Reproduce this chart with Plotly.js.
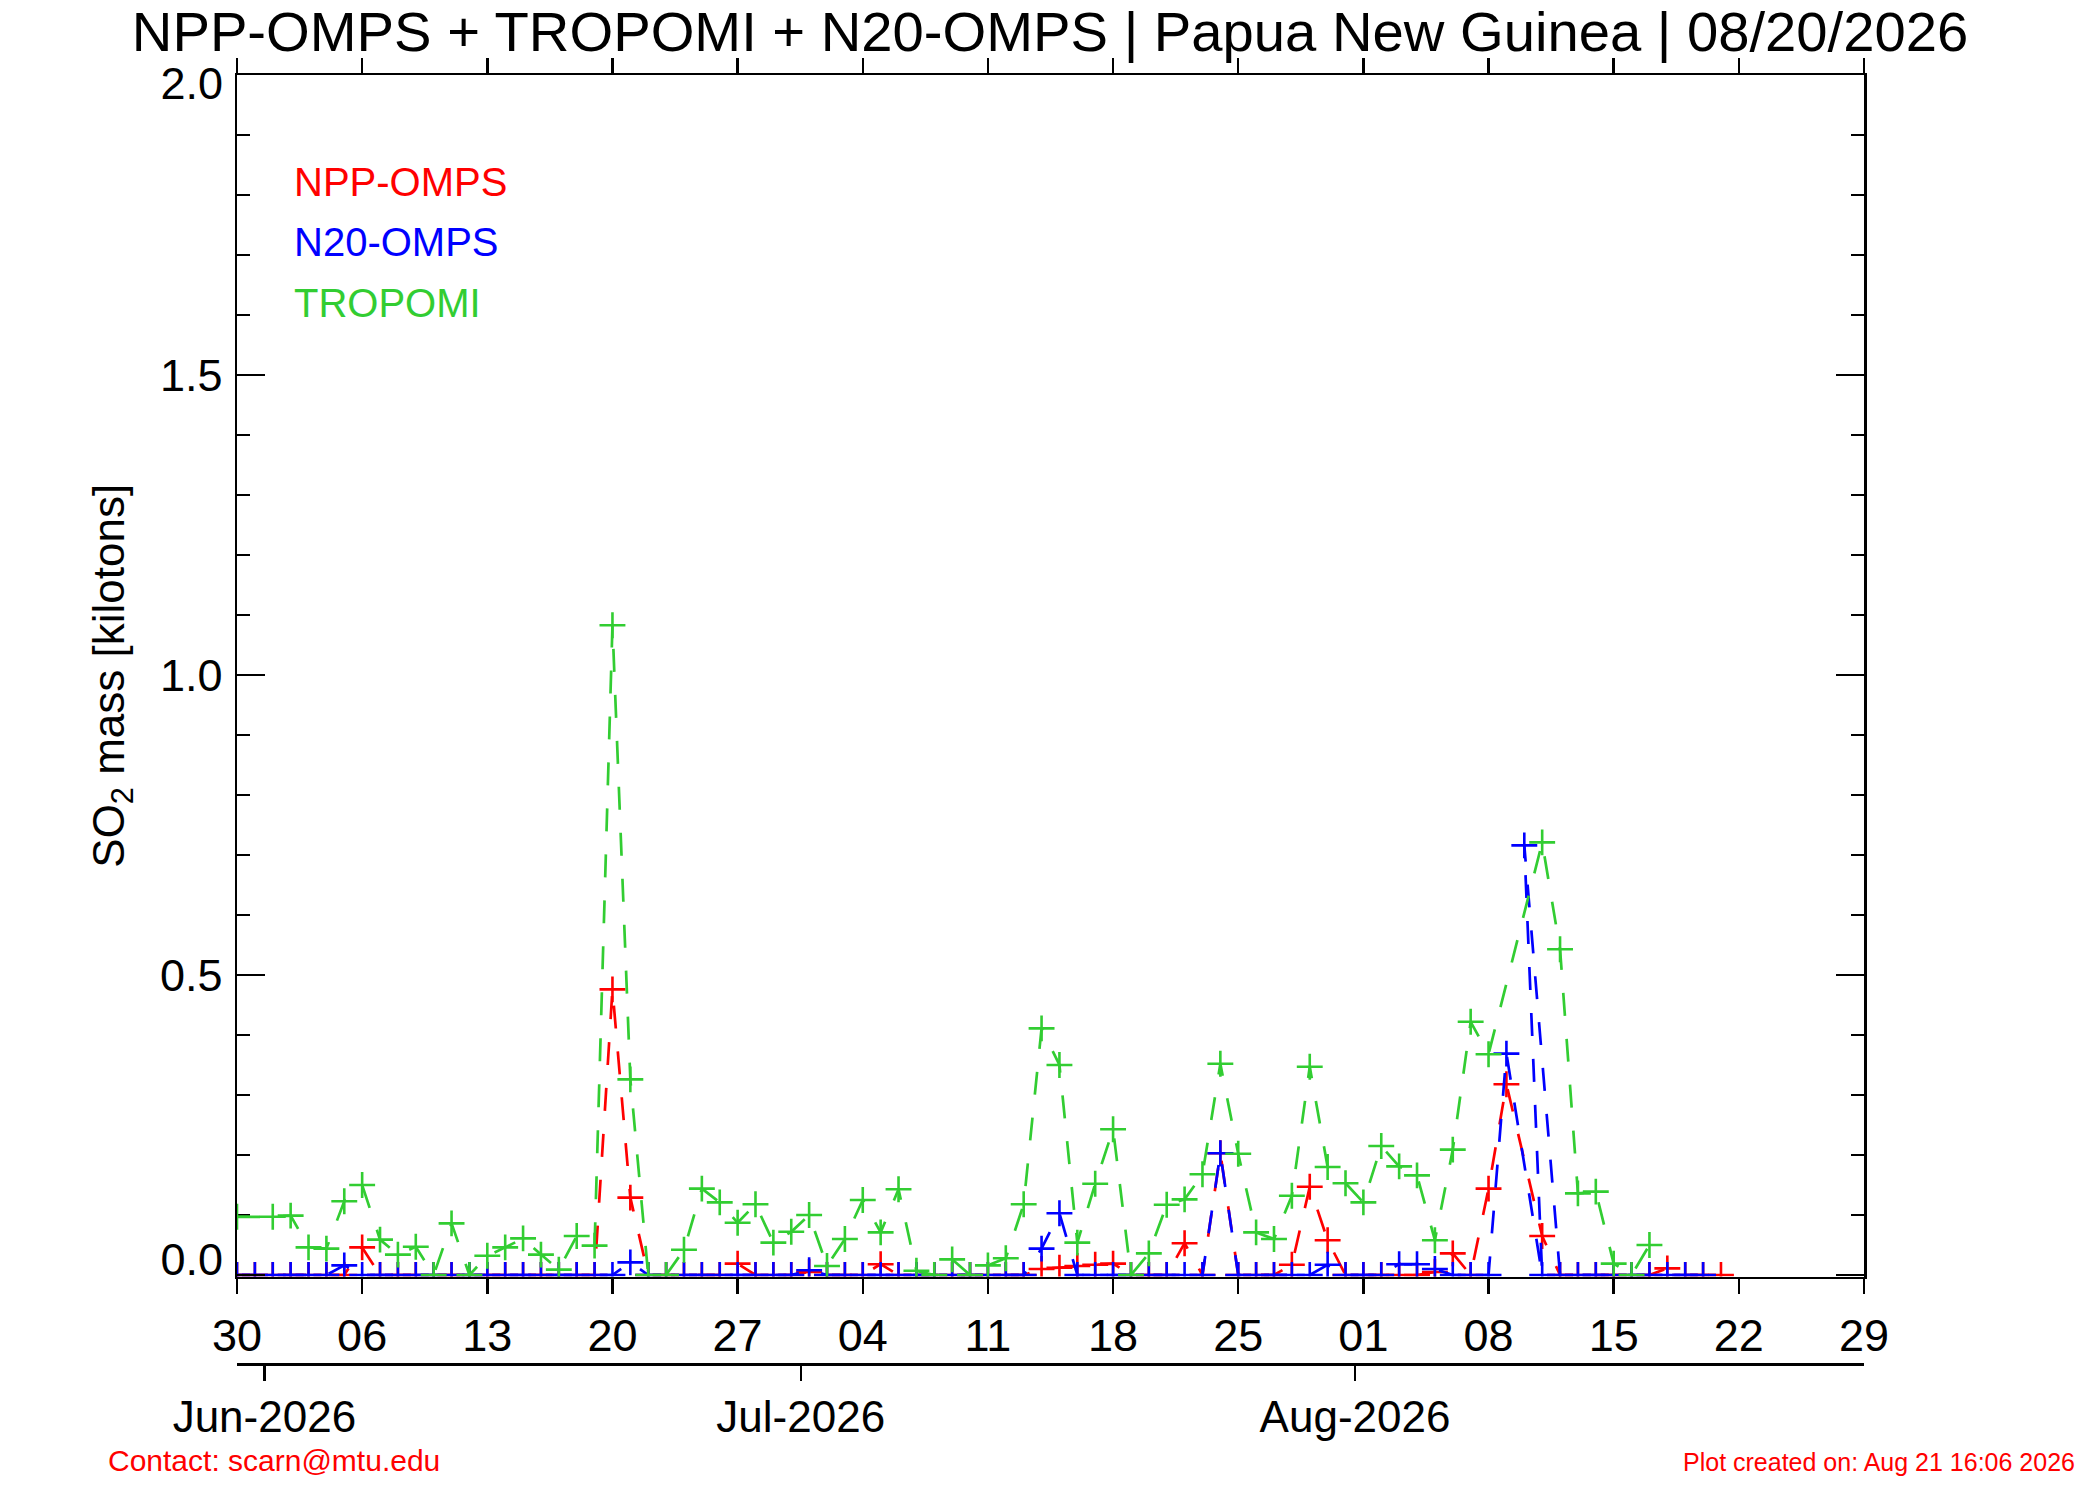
<!DOCTYPE html>
<html>
<head>
<meta charset="utf-8">
<script src="https://cdn.plot.ly/plotly-3.0.1.min.js"></script>
<style>html,body{margin:0;padding:0;background:#fff}#chart{width:2100px;height:1500px}</style>
</head>
<body>
<div id="chart"></div>
<script>
// ---------- data ----------
const startDate = '2026-05-30';
const xRange = ['2026-05-30', '2026-08-29'];
const monthAxisRange = ['2026-05-30 11:15', '2026-08-29 11:15'];

const weekTickDates = ['2026-05-30','2026-06-06','2026-06-13','2026-06-20','2026-06-27','2026-07-04','2026-07-11','2026-07-18','2026-07-25','2026-08-01','2026-08-08','2026-08-15','2026-08-22','2026-08-29'];
const weekTickText  = ['30','06','13','20','27','04','11','18','25','01','08','15','22','29'];
const monthTickDates = ['2026-06-01','2026-07-01','2026-08-01'];
const monthTickText  = ['Jun-2026','Jul-2026','Aug-2026'];

const yMidTickVals = [0.5, 1.0, 1.5];
const yMidTickText = ['0.5', '1.0', '1.5'];
const yTopTickVal = [2.0], yTopTickText = ['2.0'];
const yBottomTickVal = [0], yBottomTickText = ['0.0'];

// NPP-OMPS (day offset from start, SO2 kilotons)
const nppDay = [0,1,2,3,4,5,6,7,8,9,10,11,12,13,14,15,16,17,18,19,20,21,22,23,24,25,26,27,28,29,30,31,32,33,34,35,36,37,38,39,40,41,42,43,44,45,46,47,48,49,50,51,52,53,54,55,56,57,58,59,60,61,62,63,64,65,66,67,68,69,70,71,73,74,75,76,77,78,79,80,81,82,83];
const nppSO2 = [0,0,0,0,0,0,0,0.046,0,0,0,0,0,0,0,0,0,0,0,0,0,0.476,0.129,0,0,0,0,0,0.019,0,0,0,0.005,0,0,0,0.018,0,0,0,0,0,0,0,0,0.01,0.012,0.015,0.017,0.019,0,0,0,0.053,0,0.203,0,0,0,0.017,0.147,0.058,0,0,0,0,0,0.005,0.036,0,0.144,0.318,0.065,0,0,0,0,0,0,0.011,0,0,0];

// N20-OMPS
const n20Day = [0,1,2,3,4,5,6,7,8,9,10,11,12,13,14,15,16,17,18,19,20,21,22,23,24,25,26,27,28,29,30,31,32,33,34,35,36,37,38,39,40,41,42,43,44,45,46,47,48,49,50,51,52,53,54,55,56,57,58,59,60,61,62,63,64,65,66,67,68,69,70,71,73,72,74,75,76,77,78,79,80,81,82];
const n20SO2 = [0,0,0,0,0,0,0.016,0,0,0,0,0,0,0,0,0,0,0,0,0,0,0,0.021,0,0,0,0,0,0,0,0,0,0.008,0,0,0,0,0,0,0,0,0,0,0,0,0.044,0.103,0,0,0,0,0,0,0,0,0.203,0,0,0,0,0,0.017,0,0,0,0.018,0.018,0.01,0,0,0,0.369,0,0.716,0,0,0,0,0,0,0,0,0];

// TROPOMI
const tropDay = [0,2,3,4,5,6,7,8,9,10,11,12,13,14,15,16,17,18,19,20,21,22,23,24,25,26,27,28,29,30,31,32,33,34,35,36,37,38,39,40,41,42,43,44,45,46,47,48,49,50,51,52,53,54,55,56,57,58,59,60,61,62,63,64,65,66,67,68,69,70,73,74,75,76,77,78,79];
const tropSO2 = [0.097,0.097,0.099,0.046,0.044,0.123,0.15,0.059,0.034,0.047,0,0.086,0,0.032,0.046,0.061,0.034,0.009,0.065,0.049,1.083,0.326,0,0,0.042,0.144,0.121,0.087,0.118,0.054,0.072,0.1,0.015,0.06,0.125,0.071,0.143,0.007,0,0.026,0,0.016,0.028,0.118,0.411,0.35,0.054,0.152,0.243,0,0.036,0.117,0.126,0.168,0.352,0.202,0.071,0.06,0.132,0.347,0.18,0.153,0.121,0.215,0.181,0.166,0.058,0.209,0.422,0.368,0.721,0.543,0.136,0.139,0.019,0,0.05];

// ---------- helpers ----------
function toDates(days) {
  const base = Date.parse(startDate + 'T00:00:00Z');
  return days.map(d => new Date(base + d * 86400000).toISOString().slice(0, 10));
}

const FONT = 'Liberation Sans, Arial, Helvetica, sans-serif';
const RED = '#ff0000', BLUE = '#0000ff', GREEN = '#32cd32';

function series(days, vals, color) {
  return {
    type: 'scatter', mode: 'lines+markers',
    x: toDates(days), y: vals,
    line: {color: color, width: 2.7, dash: '23px,23px'},
    marker: {symbol: 'cross-thin-open', size: 18.5, color: color, line: {color: color, width: 2.6}},
    hoverinfo: 'skip', showlegend: false
  };
}
function emptyTrace(xa, ya) {
  return {type: 'scatter', mode: 'lines', x: [xRange[0]], y: [null], xaxis: xa, yaxis: ya, hoverinfo: 'skip', showlegend: false};
}

const traces = [
  series(nppDay, nppSO2, RED),
  series(n20Day, n20SO2, BLUE),
  series(tropDay, tropSO2, GREEN),
  emptyTrace('x2', 'y'),
  emptyTrace('x', 'y2'),
  emptyTrace('x', 'y3')
];

// plot area geometry (pixels)
const W = 2100, H = 1500;
const mL = 237, mR = 236, mT = 75, mB = 136;
const areaW = W - mL - mR;
const areaH = H - mT - mB;          // 1289
const mainBottom = 1276.5;           // bottom of main y-domain
const yDomLo = (H - mB - mainBottom) / areaH;
const yRange = [-0.0025, 2.0];
const px = v => (v - mL) / areaW;
const py = v => (H - mB - v) / areaH;

const tickFont = {family: FONT, size: 45, color: '#000'};
function labelAxis(vals, text, shift) {
  return {
    range: yRange, domain: [yDomLo, 1], overlaying: 'y', anchor: 'x', side: 'left',
    showgrid: false, zeroline: false, showline: false, mirror: 'ticks',
    ticks: 'inside', ticklen: 28, tickwidth: 2.5, tickcolor: '#000',
    tickmode: 'array', tickvals: vals, ticktext: text,
    tickfont: tickFont, ticklabelstandoff: 13, ticklabelshift: shift
  };
}

const layout = {
  width: W, height: H,
  margin: {l: mL, r: mR, t: mT, b: mB, pad: 0},
  paper_bgcolor: '#fff', plot_bgcolor: '#fff',
  font: {family: FONT, color: '#000'},
  showlegend: false,
  hovermode: false,
  title: {
    text: 'NPP-OMPS + TROPOMI + N20-OMPS | Papua New Guinea | 08/20/2026',
    font: {family: FONT, size: 56.2, color: '#000'},
    x: 0.5, xref: 'container', xanchor: 'center',
    y: 1 - 31 / H, yref: 'container', yanchor: 'middle'
  },
  xaxis: {
    type: 'date', range: xRange, anchor: 'y',
    showgrid: false, zeroline: false,
    showline: true, linecolor: '#000', linewidth: 2.5, mirror: 'ticks',
    ticks: 'outside', ticklen: 15, tickwidth: 2.5, tickcolor: '#000',
    tickmode: 'array', tickvals: weekTickDates, ticktext: weekTickText,
    tickfont: tickFont,
    ticklabelstandoff: 3,
    layer: 'below traces'
  },
  xaxis2: {
    type: 'date', range: monthAxisRange, overlaying: 'x', anchor: 'free', position: 0, side: 'bottom',
    showgrid: false, zeroline: false,
    showline: true, linecolor: '#000', linewidth: 2.5,
    ticks: 'outside', ticklen: 15, tickwidth: 2.5, tickcolor: '#000',
    tickmode: 'array', tickvals: monthTickDates, ticktext: monthTickText,
    tickfont: {family: FONT, size: 44, color: '#000'},
    ticklabelstandoff: -1
  },
  yaxis: {
    range: yRange, domain: [yDomLo, 1],
    showgrid: false, zeroline: false,
    showline: true, linecolor: '#000', linewidth: 2.5, mirror: 'ticks',
    ticks: 'inside', ticklen: 28, tickwidth: 2.5, tickcolor: '#000',
    tickmode: 'array', tickvals: yMidTickVals, ticktext: yMidTickText,
    tickfont: tickFont,
    ticklabelstandoff: 3,
    minor: {ticks: 'inside', ticklen: 13, tickwidth: 2.5, tickcolor: '#000', dtick: 0.1, tick0: 0, showgrid: false},
    title: {text: 'SO<sub>2</sub> mass [kilotons]', font: {family: FONT, size: 44, color: '#000'}, standoff: 22},
    layer: 'below traces'
  },
  yaxis2: labelAxis(yTopTickVal, yTopTickText, 8),
  yaxis3: labelAxis(yBottomTickVal, yBottomTickText, -16),
  annotations: [
    {text: 'NPP-OMPS', font: {family: FONT, size: 40, color: RED}, xref: 'paper', yref: 'paper', x: px(292), y: py(182), xanchor: 'left', yanchor: 'middle', showarrow: false},
    {text: 'N20-OMPS', font: {family: FONT, size: 40, color: BLUE}, xref: 'paper', yref: 'paper', x: px(292), y: py(242), xanchor: 'left', yanchor: 'middle', showarrow: false},
    {text: 'TROPOMI', font: {family: FONT, size: 40, color: GREEN}, xref: 'paper', yref: 'paper', x: px(292), y: py(303), xanchor: 'left', yanchor: 'middle', showarrow: false},
    {text: 'Contact: scarn@mtu.edu', font: {family: FONT, size: 30, color: RED}, xref: 'paper', yref: 'paper', x: px(106), y: py(1460), xanchor: 'left', yanchor: 'middle', showarrow: false},
    {text: 'Plot created on: Aug 21 16:06 2026', font: {family: FONT, size: 25, color: RED}, xref: 'paper', yref: 'paper', x: px(1681), y: py(1462), xanchor: 'left', yanchor: 'middle', showarrow: false}
  ]
};

Plotly.newPlot('chart', traces, layout, {displayModeBar: false, staticPlot: true});
</script>
</body>
</html>
